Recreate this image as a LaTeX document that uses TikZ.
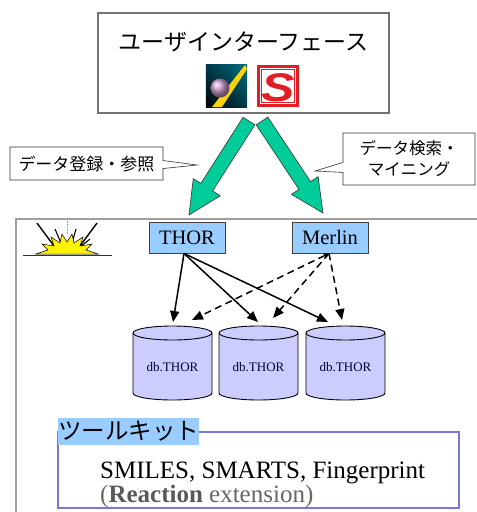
\documentclass[tikz,border=0pt]{standalone}
\usepackage{fontspec}
\setmainfont{Liberation Serif}
\newfontfamily\jp{Noto Sans CJK JP}
\newfontfamily\logofont{Liberation Sans}
\usetikzlibrary{calc,arrows.meta,shapes.callouts,shadings}

\definecolor{arrowgreen}{RGB}{0,204,153}
\definecolor{boxblue}{RGB}{153,204,255}
\definecolor{dbfill}{RGB}{204,204,255}
\definecolor{framegray}{RGB}{160,160,160}
\definecolor{kitborder}{RGB}{120,120,220}
\definecolor{logored}{RGB}{225,30,35}
\definecolor{tealdark}{RGB}{0,60,75}
\definecolor{tealmid}{RGB}{0,110,130}

\tikzset{
  sysbox/.style={draw=black!75, fill=boxblue, line width=0.9pt,
    minimum width=76pt, minimum height=31pt, inner sep=0pt,
    font=\fontsize{20.5}{22}\selectfont},
  calloutbox/.style={rectangle callout, draw=black!80, fill=white, line width=0.6pt,
    inner sep=0pt, font=\jp\fontsize{17}{21}\selectfont, align=center},
  fatarrow/.style={fill=arrowgreen, draw=black!80, line width=0.6pt, line join=miter},
  dblabel/.style={font=\fontsize{13}{14}\selectfont, text=black!80!blue, inner sep=0pt},
  dbbody/.style={draw=black, fill=dbfill, line width=0.9pt},
  feed/.style={-{Triangle[length=11pt,width=9pt]}, line width=1.5pt},
  query/.style={feed, dash pattern=on 7pt off 4.5pt},
}

% thick block arrow from tail coordinate #1 to tip coordinate #2
\newcommand{\blockarrow}[2]{%
  \path ($(#2)!33pt!(#1)$) coordinate (ba-base);
  \filldraw[fatarrow]
    ($(#1)!7pt!90:(#2)$) -- ($(ba-base)!7pt!90:(#2)$) -- ($(ba-base)!16pt!90:(#2)$)
    -- (#2) -- ($(ba-base)!16pt!-90:(#2)$) -- ($(ba-base)!7pt!-90:(#2)$)
    -- ($(#1)!7pt!-90:(#2)$) -- cycle;
}

% database cylinder with centre x #1, top y #2, bottom y #3, node name #4
\newcommand{\dbcyl}[4]{%
  \filldraw[dbbody] (#1-39.5,#2) -- (#1-39.5,#3)
    arc[start angle=180, end angle=360, x radius=39.5pt, y radius=7pt]
    -- (#1+39.5,#2)
    arc[start angle=0, end angle=180, x radius=39.5pt, y radius=7pt] -- cycle;
  \draw[dbbody, fill=none] (#1-39.5,#2)
    arc[start angle=180, end angle=360, x radius=39.5pt, y radius=7pt];
  \node[dblabel] (#4) at (#1,{(#2+#3)/2+4}) {db.THOR};
}

\begin{document}
\begin{tikzpicture}[x=1pt, y=-1pt]
\useasboundingbox (0,0) rectangle (477,512);

% ---------- user interface panel ----------
\node[draw=black!55, line width=1.2pt, minimum width=291pt, minimum height=100pt,
      inner sep=0pt] (ui) at (243.5,63) {};
\node[font=\jp\fontsize{23}{25}\selectfont, inner sep=0pt] (uititle) at (243.5,42)
  {ユーザインターフェース};

% first application icon
\node[minimum width=41pt, minimum height=42pt, inner sep=0pt] (icona) at (226.5,86) {};
\shade[lower left=black, upper right=tealmid, lower right=tealdark, upper left=tealdark]
  (icona.south west) rectangle (icona.north east);
\fill[yellow!70!orange] (212,107) -- (222,107) -- (247,69) -- (245,65) -- cycle;
\shade[ball color=violet!40!white] (220,88) circle[radius=9.5pt];

% second application icon
\node[minimum width=42pt, minimum height=42pt, inner sep=0pt, fill=logored] (iconb)
  at (278,86) {};
\fill[white] ($(iconb.south west)+(3,-3)$) rectangle ($(iconb.north east)+(-3,3)$);
\draw[logored, line width=1pt] ($(iconb.south west)+(5,-5)$) rectangle ($(iconb.north east)+(-5,5)$);
\node[text=logored, font=\logofont\bfseries\itshape\fontsize{40}{40}\selectfont,
      inner sep=0pt, xscale=1.25] at ($(iconb.center)+(0,2)$) {S};

% ---------- system frame ----------
\coordinate (frameTL) at (16,219);
\draw[framegray, line width=2pt] (477,219) -- (frameTL) -- (16,512);

% sunrise symbol
\begin{scope}[shift={(67,254)}]
  \draw[black!80, line width=0.9pt] (-44,1) -- (45,1);
  \draw[black!40, densely dotted, line width=0.6pt] (0,-35) -- (0,-19);
  \draw[black, line width=1.4pt] (-30,-31) -- (-13,-8);
  \draw[black, line width=1.4pt] (30,-31) -- (13,-8);
  \draw[black, line width=1.1pt] (-12,-25) -- (-6,-11);
  \draw[black, line width=1.1pt] (9,-25) -- (5,-11);
  \draw[black, line width=1.1pt] (23,-15) -- (13,-7);
  \filldraw[fill=yellow, draw=black, line width=0.5pt]
    (-31,0) -- (-19,-4) -- (-25,-10) -- (-13,-8) -- (-16,-17) -- (-7,-11)
    -- (-5,-20) -- (0,-12) -- (5,-20) -- (7,-11) -- (16,-17) -- (13,-8)
    -- (25,-10) -- (19,-4) -- (31,0) -- cycle;
\end{scope}

% ---------- engines ----------
\node[sysbox] (thor) at (187,237.5) {THOR};
\node[sysbox] (merlin) at (330,237.5) {Merlin};

% ---------- block arrows from the interface ----------
\coordinate (tailL) at (249,121);
\coordinate (tipL) at (189,215);
\coordinate (tailR) at (262,121);
\coordinate (tipR) at (323,213);
\blockarrow{tailL}{tipL}
\blockarrow{tailR}{tipR}

% ---------- callouts ----------
\coordinate (ptrL) at (197,165);
\coordinate (ptrR) at (315,171);
\node[calloutbox, minimum width=153pt, minimum height=33pt,
      callout absolute pointer={(ptrL)}, callout pointer width=8pt]
  (regist) at (86.5,163.5) {データ登録・参照};
\node[calloutbox, minimum width=132pt, minimum height=52pt,
      font=\jp\fontsize{16.5}{21}\selectfont,
      callout absolute pointer={(ptrR)}, callout pointer width=10pt]
  (search) at (409,159) {データ検索・\\マイニング};

% ---------- databases ----------
\dbcyl{172.5}{333}{393}{db1}
\dbcyl{258.5}{333}{393}{db2}
\dbcyl{345.5}{333}{393}{db3}
\coordinate (in1) at (173,322);
\coordinate (in2) at (258,322);
\coordinate (in3) at (328,322);
\coordinate (q1) at (192,320);
\coordinate (q2) at (273,318);
\coordinate (q3) at (342,320);

\draw[feed] ([xshift=-3pt]thor.south) -- (in1);
\draw[feed] ([xshift=-3pt]thor.south) -- (in2);
\draw[feed] ([xshift=-3pt]thor.south) -- (in3);
\draw[query, {Triangle[length=5pt,width=5pt]}-{Triangle[length=11pt,width=9pt]}]
  ([xshift=-1pt]merlin.south) -- (q1);
\draw[query] ([xshift=-1pt]merlin.south) -- (q2);
\draw[query] ([xshift=-1pt]merlin.south) -- (q3);

% ---------- toolkit ----------
\node[draw=kitborder, line width=1.2pt, minimum width=401pt, minimum height=76pt,
      inner sep=0pt] (kit) at (258.5,470) {};
\node[fill=boxblue, anchor=west, inner sep=0pt, minimum height=27pt,
      font=\jp\fontsize{23.5}{25}\selectfont] (kitlabel) at (58,431.5) {ツールキット};
\node[anchor=base west, inner sep=0pt, font=\fontsize{25}{27}\selectfont]
  (kitline1) at (100,478) {SMILES, SMARTS, Fingerprint};
\node[anchor=base west, inner sep=0pt, font=\fontsize{25}{27}\selectfont, text=black!60]
  (kitline2) at (100,502) {(\textbf{\color{black!65}Reaction} extension)};

\end{tikzpicture}
\end{document}
